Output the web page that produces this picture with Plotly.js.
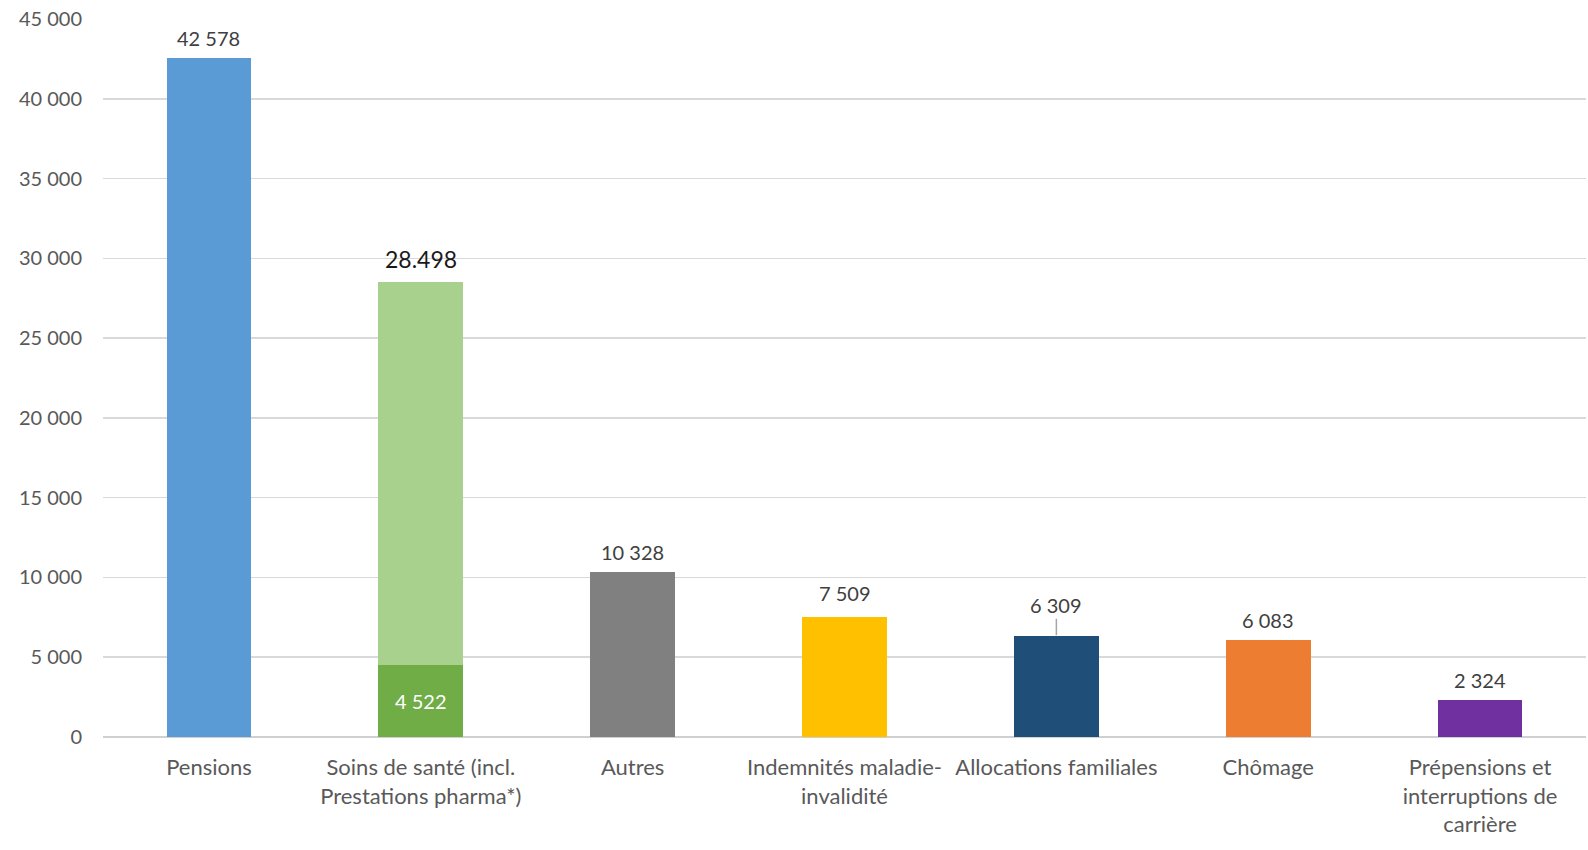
<!DOCTYPE html>
<html>
<head>
<meta charset="utf-8">
<script src="https://cdn.plot.ly/plotly-3.0.1.min.js"></script>
<style>html,body{margin:0;padding:0;background:#fff;overflow:hidden;}#chart{width:1588px;height:850px;}</style>
</head>
<body>
<div id="chart"></div>
<script>
const categories = [
  "Pensions",
  "Soins de santé (incl.<br>Prestations pharma*)",
  "Autres",
  "Indemnités maladie-<br>invalidité",
  "Allocations familiales",
  "Chômage",
  "Prépensions et<br>interruptions de<br>carrière"
];
const totals = [42578, 28498, 10328, 7509, 6309, 6083, 2324];
const pharmaPart = [0, 4522, 0, 0, 0, 0, 0];
const colors = ["#5B9BD5", "#70AD47", "#808080", "#FFC000", "#1F4E79", "#ED7D31", "#7030A0"];
const upperColor = "#A9D18E";
const yTicks = [0, 5000, 10000, 15000, 20000, 25000, 30000, 35000, 40000, 45000];

function fmt(v, sep) {
  return String(v).replace(/\B(?=(\d{3})+(?!\d))/g, sep);
}

const FONT = "Lato, 'Open Sans', sans-serif";

// lower segment: full value, or pharma part for the stacked category
const lower = totals.map((t, i) => pharmaPart[i] > 0 ? pharmaPart[i] : t);
const upper = totals.map((t, i) => pharmaPart[i] > 0 ? t - pharmaPart[i] : 0);

const traces = [
  {type: "bar", x: categories, y: lower, marker: {color: colors}, width: 0.4, hoverinfo: "x+y"},
  {type: "bar", x: categories, y: upper, marker: {color: upperColor}, width: 0.4, hoverinfo: "x+y"}
];

const annotations = [];
totals.forEach((t, i) => {
  const stacked = pharmaPart[i] > 0;
  const isAlloc = i === 4;
  if (isAlloc) {
    annotations.push({
      x: categories[i], y: t, xref: "x", yref: "y",
      text: fmt(t, " "), showarrow: true, arrowhead: 0, arrowwidth: 1.5,
      arrowcolor: "#a6a6a6", ax: 0, ay: -31, standoff: 1,
      font: {family: FONT, size: 20, color: "#404040"}
    });
  } else {
    annotations.push({
      x: categories[i], y: t, xref: "x", yref: "y",
      text: stacked ? fmt(t, ".") : fmt(t, " "),
      showarrow: false, yanchor: "middle", yshift: stacked ? 23 : (i === 3 ? 24 : 20),
      font: stacked ? {family: FONT, size: 23, color: "#1a1a1a"}
                    : {family: FONT, size: 20, color: "#404040"}
    });
  }
  if (stacked) {
    annotations.push({
      x: categories[i], y: pharmaPart[i] / 2, xref: "x", yref: "y",
      text: fmt(pharmaPart[i], " "), showarrow: false, yanchor: "middle",
      font: {family: FONT, size: 20, color: "#ffffff"}
    });
  }
});

const layout = {
  width: 1588, height: 850,
  margin: {l: 103, r: 2, t: 19, b: 113},
  paper_bgcolor: "#ffffff", plot_bgcolor: "#ffffff",
  barmode: "stack",
  showlegend: false,
  separators: ", ",
  font: {family: FONT, size: 20, color: "#595959"},
  xaxis: {
    tickfont: {family: FONT, size: 22, color: "#595959"},
    showline: false, showgrid: false, zeroline: false, ticks: "", ticklen: 0,
    automargin: false, tickangle: 0, ticklabelstandoff: 15
  },
  yaxis: {
    range: [0, 45000], tickvals: yTicks, ticktext: yTicks.map(v => fmt(v, " ")),
    showgrid: true, gridcolor: "#d9d9d9", gridwidth: 1.5,
    zeroline: true, zerolinecolor: "#d0d0d0", zerolinewidth: 2,
    showline: false, ticks: "", ticklabelstandoff: 20,
    tickfont: {family: FONT, size: 20, color: "#595959"},
    automargin: false, fixedrange: true
  },
  annotations: annotations
};

Plotly.newPlot("chart", traces, layout, {displayModeBar: false, staticPlot: true});
</script>
</body>
</html>
